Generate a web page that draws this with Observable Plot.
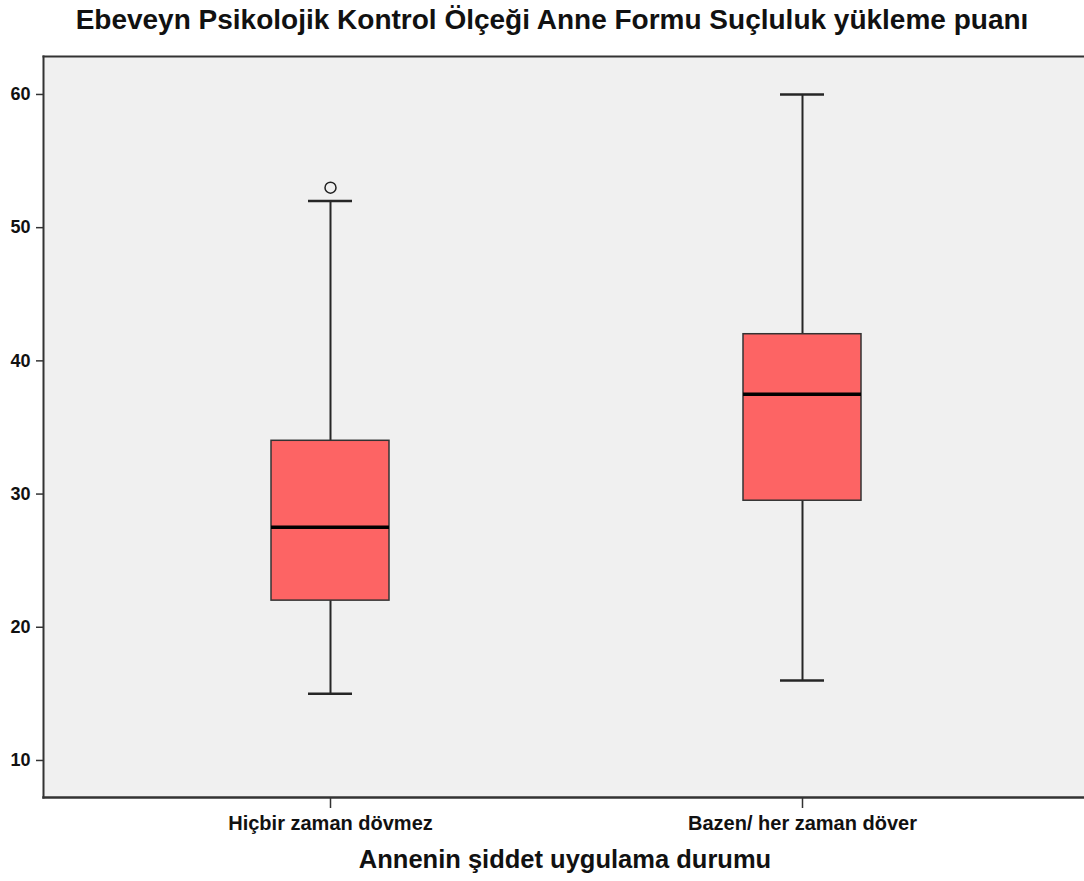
<!DOCTYPE html>
<html>
<head>
<meta charset="utf-8">
<script src="https://cdn.jsdelivr.net/npm/d3@7"></script>
<script src="https://cdn.jsdelivr.net/npm/@observablehq/plot@0.6"></script>
<style>
  body { margin: 0; background: #ffffff; font-family: "Liberation Sans", Arial, sans-serif; }
  #title { height: 40px; width: 1064px; padding-left: 20px; text-align: center; font-weight: bold; font-size: 28px; line-height: 40px; color: #111; white-space: nowrap; }
  #chart svg { display: block; }
</style>
</head>
<body>
<div id="title"></div>
<div id="chart"></div>
<script>
const titleText = "Ebeveyn Psikolojik Kontrol Ölçeği Anne Formu Suçluluk yükleme puanı";
const xLabel = "Annenin şiddet uygulama durumu";
const categories = ["Hiçbir zaman dövmez", "Bazen/ her zaman döver"];
const whiskerLow = [15, 16];
const q1 = [22, 29.5];
const median = [27.5, 37.5];
const q3 = [34, 42];
const whiskerHigh = [52, 60];
const outlierCategory = ["Hiçbir zaman dövmez"];
const outlierValue = [53];
const yTicks = [10, 20, 30, 40, 50, 60];

const boxes = categories.map((c, i) => ({
  cat: c, lo: whiskerLow[i], q1: q1[i], med: median[i], q3: q3[i], hi: whiskerHigh[i]
}));
const outliers = outlierCategory.map((c, i) => ({cat: c, v: outlierValue[i]}));

document.getElementById("title").textContent = titleText;

const lineColor = "#262626";
const capInset = 37;

const chart = Plot.plot({
  width: 1084,
  height: 841,
  marginTop: 16,
  marginBottom: 84,
  marginLeft: 43,
  marginRight: 0,
  style: {fontFamily: "'Liberation Sans', Arial, sans-serif", background: "transparent"},
  x: {type: "band", domain: categories, range: [43, 1089], paddingInner: 0.749, paddingOuter: 0.482, align: 0.5, label: null},
  y: {domain: [7.22, 62.85], label: null},
  marks: [
    Plot.frame({fill: "#f0f0f0", stroke: null}),
    Plot.ruleX(boxes, {x: "cat", y1: "lo", y2: "q1", stroke: lineColor, strokeWidth: 2}),
    Plot.ruleX(boxes, {x: "cat", y1: "q3", y2: "hi", stroke: lineColor, strokeWidth: 2}),
    Plot.tickY(boxes, {x: "cat", y: "lo", stroke: lineColor, strokeWidth: 2.5, insetLeft: capInset, insetRight: capInset}),
    Plot.tickY(boxes, {x: "cat", y: "hi", stroke: lineColor, strokeWidth: 2.5, insetLeft: capInset, insetRight: capInset}),
    Plot.barY(boxes, {x: "cat", y1: "q1", y2: "q3", fill: "#fd6464", stroke: "#333", strokeWidth: 1.5, inset: 0}),
    Plot.tickY(boxes, {x: "cat", y: "med", stroke: "#000", strokeWidth: 3.5}),
    Plot.dot(outliers, {x: "cat", y: "v", r: 5.5, stroke: "#222", strokeWidth: 1.5, fill: "none"}),
    Plot.frame({anchor: "top", stroke: "#333", strokeWidth: 2}),
    Plot.frame({anchor: "left", stroke: "#333", strokeWidth: 2}),
    Plot.frame({anchor: "bottom", stroke: "#333", strokeWidth: 2.5}),
    Plot.axisY({ticks: yTicks, tickSize: 7, tickPadding: 6, fontSize: 18, fontWeight: "bold", stroke: "#333", strokeWidth: 1.5, label: null, fill: "#111"}),
    Plot.axisX({tickSize: 11, tickPadding: 7, fontSize: 20, fontWeight: "bold", stroke: "#333", strokeWidth: 1.5, label: null, fill: "#111"}),
    Plot.text([xLabel], {frameAnchor: "bottom", text: d => d, dy: 70, dx: 1, fontSize: 25.5, fontWeight: "bold", fill: "#111"})
  ]
});
document.getElementById("chart").appendChild(chart);
</script>
</body>
</html>
